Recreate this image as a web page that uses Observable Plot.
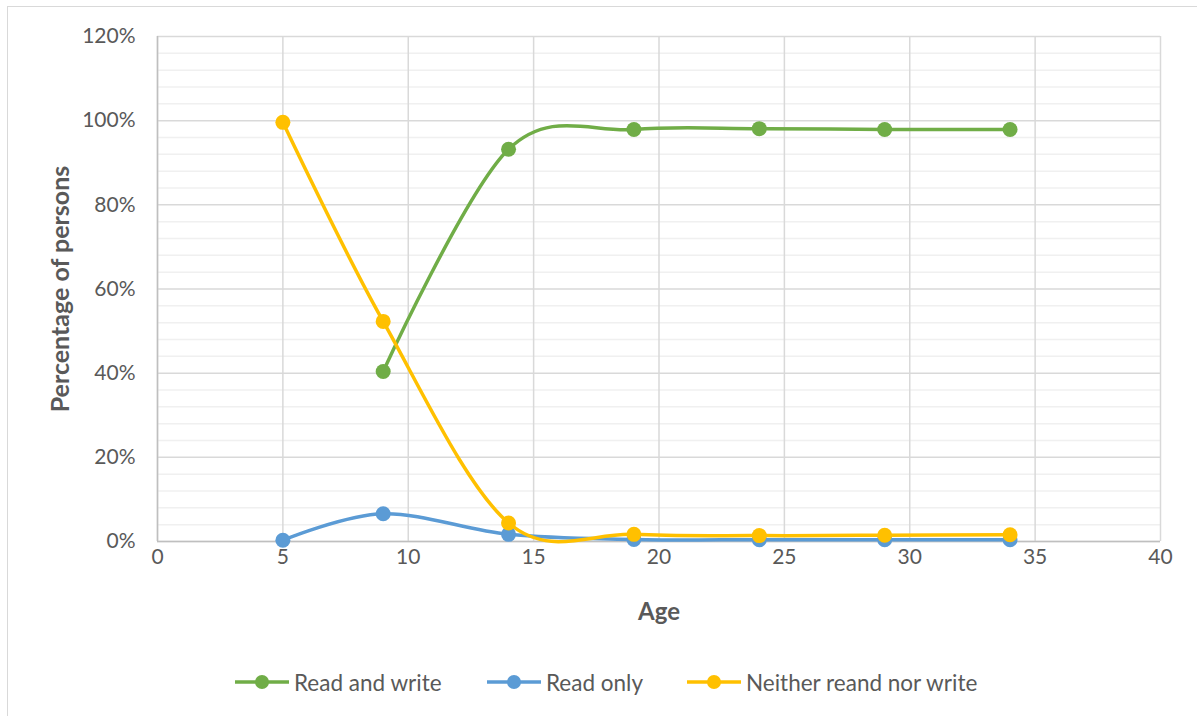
<!DOCTYPE html>
<html>
<head>
<meta charset="utf-8">
<script src="https://cdn.jsdelivr.net/npm/d3@7"></script>
<script src="https://cdn.jsdelivr.net/npm/@observablehq/plot@0.6"></script>
<style>
  html, body { margin: 0; padding: 0; background: #fff; overflow: hidden; }
  body { width: 1197px; height: 716px; position: relative; font-family: Lato, "Open Sans", sans-serif; }
  #frame { position: absolute; left: 7px; top: 6px; width: 1300px; height: 900px; border: 1px solid #d9d9d9; pointer-events: none; }
  #chart { position: absolute; left: 0; top: 0; }
  #legend { position: absolute; left: 0; top: 668px; width: 1197px; height: 28px; }
  .item { position: absolute; top: 0; display: flex; align-items: center; height: 28px; font-size: 22.5px; color: #595959; }
  .item svg { margin-right: 5px; }
</style>
</head>
<body>
<div id="chart"></div>
<div id="legend"></div>
<div id="frame"></div>
<script>
const ages = [5, 9, 14, 19, 24, 29, 34];
const seriesNames = ["Read and write", "Read only", "Neither reand nor write"];
const readAndWrite = [null, 40.4, 93.2, 97.9, 98.1, 97.9, 97.9];
const readOnly = [0.3, 6.6, 1.7, 0.5, 0.4, 0.4, 0.4];
const neither = [99.6, 52.3, 4.4, 1.7, 1.4, 1.5, 1.6];
const colors = ["#70ad47", "#5b9bd5", "#ffc000"];
const xTicks = [0, 5, 10, 15, 20, 25, 30, 35, 40];
const yTicks = [0, 20, 40, 60, 80, 100, 120];
const yMinor = d3.range(0, 121, 4).filter(v => v % 20 !== 0);

const seriesValues = [readAndWrite, readOnly, neither];
const data = [];
seriesNames.forEach((name, i) => {
  ages.forEach((a, j) => {
    const v = seriesValues[i][j];
    if (v !== null) data.push({series: name, age: a, value: v});
  });
});

const W = 1197, H = 660;
const plot = Plot.plot({
  width: W,
  height: H,
  marginLeft: 157,
  marginRight: 37,
  marginTop: 36,
  marginBottom: H - 541,
  style: {fontFamily: "Lato, 'Open Sans', sans-serif", fontSize: "20px", color: "#595959", background: "transparent"},
  x: {domain: [0, 40]},
  y: {domain: [0, 120]},
  color: {domain: seriesNames, range: colors},
  marks: [
    Plot.ruleY(yMinor, {stroke: "#f0f0f0", strokeWidth: 1.5}),
    Plot.ruleY(yTicks, {stroke: "#d9d9d9", strokeWidth: 1.5}),
    Plot.ruleX(xTicks, {stroke: "#d9d9d9", strokeWidth: 1.5}),
    Plot.ruleX([0], {stroke: "#bfbfbf", strokeWidth: 1.5}),
    Plot.ruleY([0], {stroke: "#bfbfbf", strokeWidth: 1.5}),
    Plot.axisX({ticks: xTicks, tickSize: 0, tickPadding: 8, label: null, fontSize: 21}),
    Plot.axisY({ticks: yTicks, tickSize: 0, tickPadding: 22, label: null, tickFormat: d => d + "%", fontSize: 21}),
    Plot.text(["Age"], {frameAnchor: "bottom", dy: 78, fontWeight: "bold", fontSize: 24, fill: "#595959"}),
    Plot.text(["Percentage of persons"], {frameAnchor: "left", textAnchor: "middle", dx: -97, rotate: -90, fontWeight: "bold", fontSize: 25, fill: "#595959"}),
    Plot.line(data, {x: "age", y: "value", z: "series", stroke: "series", strokeWidth: 3.5, curve: "cardinal"}),
    Plot.dot(data, {x: "age", y: "value", fill: "series", r: 7.5, stroke: null})
  ]
});
document.getElementById("chart").appendChild(plot);

const legendPos = [235, 487, 687];
const legend = document.getElementById("legend");
seriesNames.forEach((name, i) => {
  const div = document.createElement("div");
  div.className = "item";
  div.style.left = legendPos[i] + "px";
  div.innerHTML = `<svg width="54" height="16"><line x1="0" y1="8" x2="54" y2="8" stroke="${colors[i]}" stroke-width="3.5"/><circle cx="27" cy="8" r="7" fill="${colors[i]}"/></svg><span>${name}</span>`;
  legend.appendChild(div);
});
</script>
</body>
</html>
